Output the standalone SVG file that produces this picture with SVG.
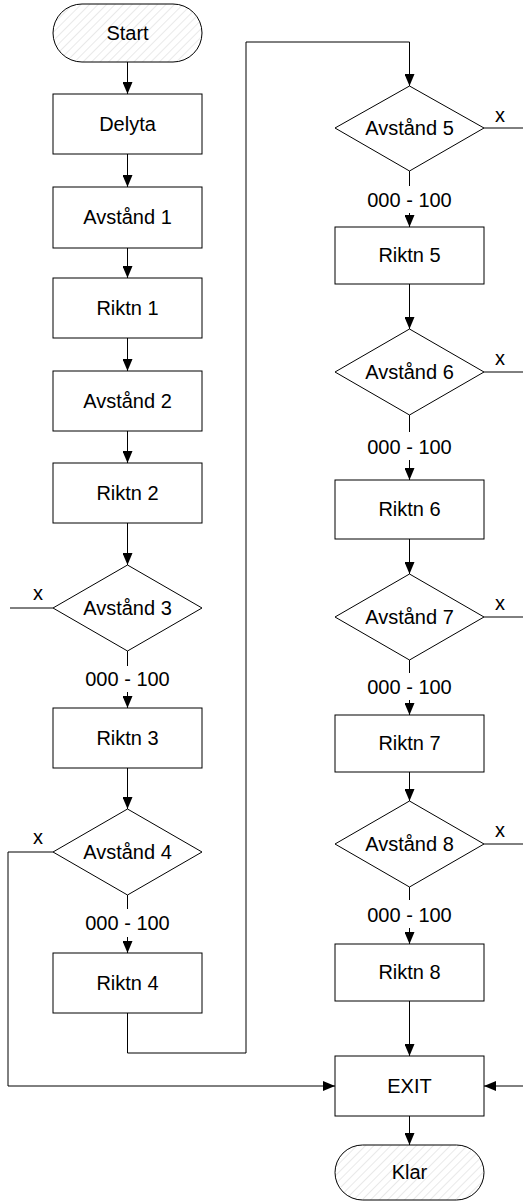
<svg xmlns="http://www.w3.org/2000/svg" width="523" height="1202" viewBox="0 0 523 1202">
<style>
.box{fill:#fff;stroke:#000;stroke-width:1}
.term{fill:url(#hatch);stroke:#000;stroke-width:1}
.t{font-family:"Liberation Sans",Arial,sans-serif;font-size:20px;fill:#000;text-anchor:middle}
.c{fill:none;stroke:#000;stroke-width:1}
.a{fill:none;stroke:#000;stroke-width:1;marker-end:url(#arr)}
</style>
<defs>
<pattern id="hatch" width="6" height="6" patternUnits="userSpaceOnUse" patternTransform="rotate(45)">
<rect width="6" height="6" fill="#fff"/>
<line x1="0" y1="0" x2="0" y2="6" stroke="#c8c8c8" stroke-width="0.8"/>
</pattern>
<marker id="arr" markerUnits="userSpaceOnUse" markerWidth="12" markerHeight="10" refX="12" refY="5" orient="auto">
<path d="M0,0 L12,5 L0,10 z" fill="#000"/>
</marker>
</defs>

<g id="connectors">
<line class="a" x1="127.5" y1="62" x2="127.5" y2="94"/>
<line class="a" x1="127.5" y1="154" x2="127.5" y2="187"/>
<line class="a" x1="127.5" y1="248" x2="127.5" y2="278"/>
<line class="a" x1="127.5" y1="338" x2="127.5" y2="371"/>
<line class="a" x1="127.5" y1="431" x2="127.5" y2="463"/>
<line class="a" x1="127.5" y1="523" x2="127.5" y2="565"/>
<line class="c" x1="127.5" y1="651" x2="127.5" y2="666"/>
<line class="a" x1="127.5" y1="692" x2="127.5" y2="708"/>
<line class="a" x1="127.5" y1="768" x2="127.5" y2="809"/>
<line class="c" x1="127.5" y1="895" x2="127.5" y2="909"/>
<line class="a" x1="127.5" y1="937" x2="127.5" y2="953"/>
<polyline class="a" points="127.5,1013 127.5,1053 246,1053 246,42 409.5,42 409.5,86"/>
<line class="c" x1="10" y1="608" x2="53" y2="608"/>
<polyline class="a" points="53,852 8,852 8,1086 335,1086"/>

<line class="c" x1="409.5" y1="171" x2="409.5" y2="186"/>
<line class="a" x1="409.5" y1="213" x2="409.5" y2="227"/>
<line class="a" x1="409.5" y1="284" x2="409.5" y2="329"/>
<line class="c" x1="409.5" y1="415" x2="409.5" y2="432"/>
<line class="a" x1="409.5" y1="460" x2="409.5" y2="480"/>
<line class="a" x1="409.5" y1="539" x2="409.5" y2="574"/>
<line class="c" x1="409.5" y1="660" x2="409.5" y2="673"/>
<line class="a" x1="409.5" y1="700" x2="409.5" y2="715"/>
<line class="a" x1="409.5" y1="772" x2="409.5" y2="801"/>
<line class="c" x1="409.5" y1="887" x2="409.5" y2="900"/>
<line class="a" x1="409.5" y1="928" x2="409.5" y2="944"/>
<line class="a" x1="409.5" y1="1001" x2="409.5" y2="1056"/>
<line class="a" x1="409.5" y1="1116" x2="409.5" y2="1145"/>
<line class="c" x1="484" y1="128" x2="523" y2="128"/>
<line class="c" x1="484" y1="372" x2="523" y2="372"/>
<line class="c" x1="484" y1="617" x2="523" y2="617"/>
<line class="c" x1="484" y1="844" x2="523" y2="844"/>
<line class="a" x1="523" y1="1086" x2="484" y2="1086"/>

<text class="t" x="127.5" y="686">000 - 100</text>
<text class="t" x="127.5" y="930">000 - 100</text>
<text class="t" x="409.5" y="207">000 - 100</text>
<text class="t" x="409.5" y="454">000 - 100</text>
<text class="t" x="409.5" y="694">000 - 100</text>
<text class="t" x="409.5" y="922">000 - 100</text>
<text class="t" x="38" y="600">x</text>
<text class="t" x="38" y="844">x</text>
<text class="t" x="500" y="122">x</text>
<text class="t" x="500" y="365">x</text>
<text class="t" x="500" y="610">x</text>
<text class="t" x="500" y="837">x</text>
</g>

<g id="start"><rect class="term" x="53" y="4" width="149" height="58" rx="29"/><text class="t" x="127.5" y="40">Start</text></g>
<g id="delyta"><rect class="box" x="53" y="94" width="149" height="60"/><text class="t" x="127.5" y="131">Delyta</text></g>
<g id="avstand1"><rect class="box" x="53" y="187" width="149" height="61"/><text class="t" x="127.5" y="224">Avstånd 1</text></g>
<g id="riktn1"><rect class="box" x="53" y="278" width="149" height="60"/><text class="t" x="127.5" y="315">Riktn 1</text></g>
<g id="avstand2"><rect class="box" x="53" y="371" width="149" height="60"/><text class="t" x="127.5" y="408">Avstånd 2</text></g>
<g id="riktn2"><rect class="box" x="53" y="463" width="149" height="60"/><text class="t" x="127.5" y="500">Riktn 2</text></g>
<g id="avstand3"><polygon class="box" points="127.5,565 202,608 127.5,651 53,608"/><text class="t" x="127.5" y="615">Avstånd 3</text></g>
<g id="riktn3"><rect class="box" x="53" y="708" width="149" height="60"/><text class="t" x="127.5" y="745">Riktn 3</text></g>
<g id="avstand4"><polygon class="box" points="127.5,809 202,852 127.5,895 53,852"/><text class="t" x="127.5" y="859">Avstånd 4</text></g>
<g id="riktn4"><rect class="box" x="53" y="953" width="149" height="60"/><text class="t" x="127.5" y="990">Riktn 4</text></g>

<g id="avstand5"><polygon class="box" points="409.5,86 484,128 409.5,171 335,128"/><text class="t" x="409.5" y="135">Avstånd 5</text></g>
<g id="riktn5"><rect class="box" x="335" y="227" width="149" height="57"/><text class="t" x="409.5" y="262">Riktn 5</text></g>
<g id="avstand6"><polygon class="box" points="409.5,329 484,372 409.5,415 335,372"/><text class="t" x="409.5" y="379">Avstånd 6</text></g>
<g id="riktn6"><rect class="box" x="335" y="480" width="149" height="59"/><text class="t" x="409.5" y="516">Riktn 6</text></g>
<g id="avstand7"><polygon class="box" points="409.5,574 484,617 409.5,660 335,617"/><text class="t" x="409.5" y="624">Avstånd 7</text></g>
<g id="riktn7"><rect class="box" x="335" y="715" width="149" height="57"/><text class="t" x="409.5" y="750">Riktn 7</text></g>
<g id="avstand8"><polygon class="box" points="409.5,801 484,844 409.5,887 335,844"/><text class="t" x="409.5" y="851">Avstånd 8</text></g>
<g id="riktn8"><rect class="box" x="335" y="944" width="149" height="57"/><text class="t" x="409.5" y="979">Riktn 8</text></g>
<g id="exit"><rect class="box" x="335" y="1056" width="149" height="60"/><text class="t" x="409.5" y="1093">EXIT</text></g>
<g id="klar"><rect class="term" x="335" y="1145" width="149" height="55" rx="27.5"/><text class="t" x="409.5" y="1179">Klar</text></g>
</svg>
